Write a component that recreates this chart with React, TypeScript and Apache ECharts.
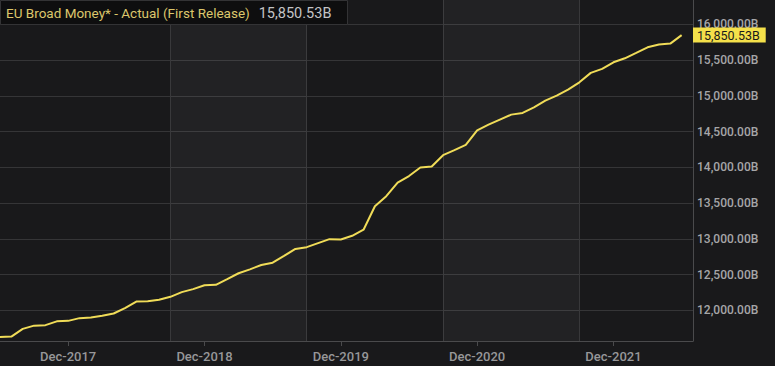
import React, { useEffect, useRef } from "react";
import * as echarts from "echarts";

const months: string[] = [
  "Jun-2017", "Jul-2017", "Aug-2017", "Sep-2017", "Oct-2017", "Nov-2017", "Dec-2017",
  "Jan-2018", "Feb-2018", "Mar-2018", "Apr-2018", "May-2018", "Jun-2018", "Jul-2018", "Aug-2018", "Sep-2018", "Oct-2018", "Nov-2018", "Dec-2018",
  "Jan-2019", "Feb-2019", "Mar-2019", "Apr-2019", "May-2019", "Jun-2019", "Jul-2019", "Aug-2019", "Sep-2019", "Oct-2019", "Nov-2019", "Dec-2019",
  "Jan-2020", "Feb-2020", "Mar-2020", "Apr-2020", "May-2020", "Jun-2020", "Jul-2020", "Aug-2020", "Sep-2020", "Oct-2020", "Nov-2020", "Dec-2020",
  "Jan-2021", "Feb-2021", "Mar-2021", "Apr-2021", "May-2021", "Jun-2021", "Jul-2021", "Aug-2021", "Sep-2021", "Oct-2021", "Nov-2021", "Dec-2021",
  "Jan-2022", "Feb-2022", "Mar-2022", "Apr-2022", "May-2022", "Jun-2022", "Jul-2022",
];

const broadMoney: (number | null)[] = [
  11625, 11632, 11740, 11785, 11792, 11845, 11852,
  11890, 11900, 11922, 11955, 12030, 12122, 12126, 12146, 12188, 12254, 12296, 12350,
  12356, 12435, 12518, 12573, 12633, 12666, 12760, 12858, 12883, 12939, 12995, 12990,
  13042, 13127, 13455, 13596, 13785, 13878, 13997, 14011, 14170, 14240, 14315, 14518,
  14598, 14668, 14738, 14762, 14840, 14934, 15004, 15088, 15190, 15322, 15378, 15470,
  15526, 15602, 15680, 15718, 15732, 15850.53, null,
];

const yTicks: number[] = [12000, 12500, 13000, 13500, 14000, 14500, 15000, 15500, 16000];
const gridMonths: string[] = ["Sep-2018", "Sep-2019", "Sep-2020", "Sep-2021"];
const bands: [string, string][] = [
  ["Sep-2018", "Sep-2019"],
  ["Sep-2020", "Sep-2021"],
];
const lastValue = 15850.53;
const titleText = "EU Broad Money* - Actual (First Release)";

const fmt = (v: number) =>
  v.toLocaleString("en-US", { minimumFractionDigits: 2, maximumFractionDigits: 2 }) + "B";

export default function App() {
  const ref = useRef<HTMLDivElement>(null);
  useEffect(() => {
    if (!ref.current) return;
    const chart = echarts.init(ref.current, undefined, { renderer: "svg" });
    const font = "Roboto, 'Liberation Sans', sans-serif";
    chart.setOption({
      animation: false,
      backgroundColor: "#19191b",
      textStyle: { fontFamily: font },
      title: {
        left: 0,
        top: 0,
        text: `{a|${titleText}}  {b|${fmt(lastValue)}}`,
        backgroundColor: "#0e0e0f",
        borderColor: "#333335",
        borderWidth: 1,
        padding: [4, 16, 3, 6],
        textStyle: {
          fontWeight: "normal",
          rich: {
            a: { color: "#dcc66c", fontSize: 13.5, fontFamily: font, fontWeight: "normal", lineHeight: 14 },
            b: { color: "#c4c4c6", fontSize: 14.5, fontFamily: font, fontWeight: "normal", lineHeight: 14 },
          },
        },
      },
      grid: { left: 0, right: 82, top: 0, bottom: 25, containLabel: false },
      xAxis: {
        type: "category",
        data: months,
        boundaryGap: false,
        axisLine: { show: true, lineStyle: { color: "#4a4a4c", width: 1 } },
        axisTick: {
          show: true,
          length: 5,
          interval: (_i: number, v: string) => v.startsWith("Dec"),
          lineStyle: { color: "#4a4a4c" },
        },
        axisLabel: {
          interval: (_i: number, v: string) => v.startsWith("Dec"),
          color: "#979799",
          fontSize: 13,
          fontWeight: 500,
          margin: 9,
          fontFamily: font,
        },
        splitLine: {
          show: true,
          interval: (_i: number, v: string) => gridMonths.includes(v),
          lineStyle: { color: "#353537", width: 1 },
        },
      },
      yAxis: {
        type: "value",
        position: "right",
        min: 11570,
        max: 16342,
        axisLine: { show: true, lineStyle: { color: "#4a4a4c", width: 1 } },
        axisTick: { show: false, customValues: yTicks },
        axisLabel: {
          customValues: yTicks,
          formatter: (v: number) => fmt(v),
          color: "#a6a6a8",
          fontSize: 12,
          fontWeight: 500,
          margin: 4,
          fontFamily: font,
        },
        splitLine: { show: true, lineStyle: { color: "#353537", width: 1 } },
      },
      series: [
        {
          type: "line",
          data: broadMoney,
          showSymbol: false,
          symbol: "none",
          lineStyle: { color: "#f0dc58", width: 2 },
          markArea: {
            silent: true,
            itemStyle: { color: "rgba(255,255,255,0.045)" },
            data: bands.map(([a, b]) => [{ xAxis: a }, { xAxis: b }]),
          },
          markLine: {
            silent: true,
            symbol: ["none", "none"],
            lineStyle: { color: "rgba(0,0,0,0)", width: 1, type: "solid" },
            data: [{ yAxis: lastValue }],
            label: {
              show: true,
              position: "end",
              distance: 0,
              formatter: () => fmt(lastValue),
              backgroundColor: "#f4e04a",
              color: "#1a1a1a",
              fontSize: 12.5,
              fontFamily: font,
              padding: [1, 6, 1, 4],
              lineHeight: 13,
            },
          },
        },
      ],
    });
    return () => chart.dispose();
  }, []);
  return (
    <div
      ref={ref}
      style={{ position: "fixed", left: 0, top: 0, width: 775, height: 366 }}
    />
  );
}
